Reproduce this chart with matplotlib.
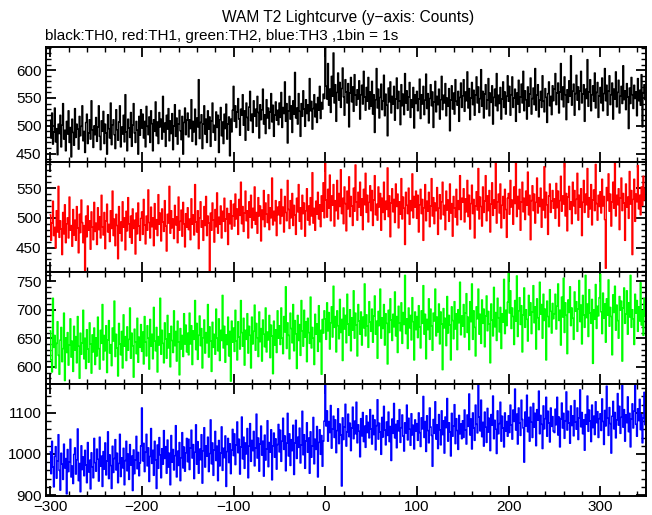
import numpy as np
import matplotlib
matplotlib.use("Agg")
import matplotlib.pyplot as plt
from matplotlib.ticker import MultipleLocator

plt.rcParams['font.family'] = ['Liberation Sans', 'DejaVu Sans']

# WAM T2 lightcurve, 1 bin = 1 s, first bin at t = -300 s
t_start = -300

th0_counts = [
    510, 478, 523, 467, 489, 532, 471, 495, 448, 503, 486, 519, 462, 501, 540, 476, 492, 455, 508, 485, 527, 470, 497, 444, 512,
    488, 465, 531, 479, 503, 494, 458, 517, 482, 499, 536, 473, 490, 452, 506, 521, 468, 487, 511, 476, 545, 493, 461, 500, 484,
    515, 472, 498, 536, 481, 457, 509, 490, 526, 468, 503, 487, 449, 520, 495, 478, 541, 466, 502, 511, 484, 459, 529, 493, 474,
    507, 536, 462, 498, 485, 519, 471, 556, 489, 455, 512, 496, 479, 524, 463, 501, 540, 487, 470, 508, 492, 449, 517, 483, 529,
    496, 521, 478, 508, 462, 535, 499, 484, 516, 470, 527, 504, 455, 511, 490, 543, 482, 507, 468, 524, 498, 512, 476, 553, 489,
    505, 463, 519, 494, 531, 473, 509, 486, 522, 457, 500, 538, 481, 514, 467, 503, 528, 491, 475, 517, 449, 506, 532, 484, 510,
    523, 480, 511, 495, 547, 472, 508, 489, 530, 466, 514, 498, 583, 477, 506, 520, 459, 503, 536, 485, 512, 470, 527, 494, 516,
    463, 509, 541, 488, 501, 474, 525, 497, 519, 452, 511, 533, 482, 507, 468, 521, 495, 539, 476, 503, 516, 446, 512, 489, 528,
    571, 508, 536, 497, 525, 549, 512, 483, 530, 519, 556, 501, 527, 474, 541, 515, 492, 534, 562, 509, 521, 488, 545, 517, 530,
    499, 553, 524, 478, 538, 511, 529, 566, 503, 520, 486, 547, 514, 532, 495, 525, 558, 507, 537, 481, 519, 543, 510, 528, 502,
    541, 515, 560, 497, 533, 522, 579, 508, 540, 469, 527, 553, 512, 536, 488, 545, 521, 596, 514, 532, 503, 558, 526, 481, 540,
    517, 563, 530, 499, 547, 522, 538, 509, 585, 527, 544, 494, 531, 556, 516, 539, 506, 551, 528, 571, 513, 542, 530, 557, 549,
    640, 571, 548, 612, 537, 566, 524, 589, 553, 631, 541, 574, 508, 560, 595, 546, 578, 533, 567, 604, 552, 519, 583, 561, 541,
    576, 498, 559, 587, 543, 570, 526, 592, 555, 537, 565, 548, 581, 512, 556, 573, 539, 598, 552, 528, 569, 544, 587, 530, 561,
    535, 580, 521, 556, 488, 547, 603, 532, 566, 514, 551, 575, 529, 545, 591, 518, 557, 537, 482, 568, 543, 579, 523, 553, 539,
    571, 510, 548, 586, 531, 562, 545, 502, 574, 536, 557, 520, 594, 541, 563, 528, 552, 578, 515, 547, 533, 569, 496, 556, 540,
    562, 527, 548, 584, 513, 556, 539, 571, 520, 546, 593, 531, 558, 505, 549, 574, 536, 561, 497, 543, 580, 525, 553, 538, 566,
    512, 547, 589, 529, 555, 541, 576, 518, 550, 535, 567, 491, 546, 572, 530, 559, 521, 583, 544, 537, 562, 508, 551, 577, 533,
    554, 583, 526, 561, 545, 597, 532, 567, 511, 550, 578, 538, 564, 519, 555, 588, 541, 570, 524, 549, 601, 535, 562, 514, 557,
    574, 530, 546, 585, 518, 559, 542, 572, 503, 551, 566, 536, 594, 527, 555, 540, 569, 512, 548, 579, 533, 561, 521, 553, 590,
    544, 571, 519, 556, 588, 533, 550, 566, 508, 559, 539, 582, 524, 552, 575, 541, 598, 527, 563, 547, 512, 570, 535, 557, 586,
    521, 549, 568, 538, 603, 528, 555, 574, 516, 546, 562, 533, 590, 544, 525, 567, 551, 506, 558, 579, 536, 553, 520, 572, 545,
    566, 594, 538, 559, 577, 523, 561, 612, 547, 570, 534, 588, 556, 511, 565, 542, 581, 553, 626, 537, 562, 575, 519, 558, 591,
    546, 570, 529, 563, 598, 541, 557, 574, 508, 566, 549, 619, 535, 561, 583, 527, 556, 572, 544, 595, 532, 560, 578, 515, 554,
    569, 541, 586, 527, 558, 603, 545, 573, 519, 562, 590, 538, 556, 577, 512, 566, 548, 597, 534, 560, 582, 523, 553, 571, 540,
    608, 547, 563, 529, 576, 552, 495, 568, 540, 587, 556, 531, 573, 549, 561, 518, 585, 545, 564, 537, 592, 498, 559, 574, 547,
]

th1_counts = [
    505, 462, 491, 528, 470, 484, 449, 512, 476, 553, 467, 495, 481, 438, 509, 473, 522, 458, 490, 500, 466, 535, 479, 487, 452,
    514, 471, 496, 462, 519, 483, 441, 506, 475, 530, 492, 458, 487, 411, 503, 468, 520, 479, 495, 447, 510, 484, 463, 526, 477,
    491, 455, 517, 480, 502, 466, 538, 485, 471, 509, 448, 495, 523, 476, 489, 460, 512, 482, 545, 470, 498, 453, 506, 487, 431,
    519, 474, 493, 461, 527, 484, 500, 446, 511, 478, 534, 490, 467, 503, 457, 515, 482, 496, 439, 508, 473, 525, 486, 462, 499,
    510, 472, 531, 488, 456, 503, 479, 547, 492, 466, 518, 485, 500, 453, 524, 481, 497, 470, 539, 489, 508, 461, 515, 493, 477,
    529, 486, 444, 506, 491, 553, 474, 512, 483, 498, 465, 521, 488, 502, 458, 535, 479, 494, 513, 469, 526, 490, 451, 507, 484,
    517, 480, 498, 463, 532, 489, 505, 471, 556, 493, 476, 512, 448, 500, 527, 484, 495, 462, 519, 487, 536, 470, 503, 491, 410,
    508, 479, 525, 496, 459, 514, 485, 542, 474, 501, 489, 520, 466, 511, 494, 533, 477, 498, 516, 455, 507, 490, 529, 481, 503,
    523, 486, 540, 498, 515, 472, 531, 504, 560, 490, 519, 477, 508, 545, 495, 512, 466, 527, 501, 538, 483, 516, 496, 552, 489,
    509, 474, 534, 503, 520, 461, 513, 497, 546, 485, 525, 506, 492, 539, 480, 517, 500, 567, 488, 511, 495, 529, 470, 518, 505,
    527, 490, 548, 503, 518, 476, 536, 509, 495, 563, 514, 482, 529, 500, 541, 487, 521, 505, 472, 533, 510, 556, 494, 517, 481,
    538, 507, 525, 469, 512, 549, 496, 520, 488, 534, 503, 576, 491, 516, 479, 528, 506, 543, 498, 522, 485, 537, 511, 559, 500,
    594, 530, 501, 548, 516, 572, 495, 537, 521, 556, 486, 529, 512, 563, 498, 541, 519, 581, 507, 533, 490, 552, 524, 478, 545,
    515, 569, 502, 536, 520, 487, 550, 511, 589, 527, 496, 543, 518, 560, 504, 532, 480, 548, 522, 575, 509, 538, 493, 526, 554,
    512, 546, 487, 530, 571, 505, 523, 496, 552, 518, 541, 479, 533, 509, 560, 497, 528, 514, 584, 502, 537, 468, 525, 549, 510,
    531, 492, 557, 519, 540, 483, 527, 506, 566, 498, 535, 516, 455, 543, 521, 507, 550, 489, 529, 512, 574, 500, 536, 518, 545,
    499, 538, 476, 522, 548, 507, 531, 462, 517, 556, 495, 528, 511, 543, 485, 520, 566, 503, 534, 490, 525, 512, 551, 472, 516,
    539, 498, 527, 560, 505, 521, 480, 545, 513, 530, 494, 557, 508, 524, 469, 536, 517, 501, 548, 488, 529, 514, 571, 497, 533,
    526, 549, 493, 532, 510, 563, 502, 538, 481, 524, 555, 507, 531, 466, 520, 544, 513, 583, 498, 535, 519, 486, 552, 509, 528,
    571, 495, 537, 512, 546, 476, 523, 559, 504, 530, 516, 594, 491, 527, 540, 508, 557, 483, 521, 536, 499, 548, 514, 467, 533,
    541, 506, 563, 518, 530, 489, 552, 524, 594, 502, 536, 515, 548, 479, 527, 560, 510, 533, 497, 545, 521, 577, 505, 538, 463,
    529, 554, 512, 540, 491, 526, 567, 508, 534, 519, 550, 484, 531, 513, 586, 500, 543, 522, 472, 537, 557, 509, 528, 546, 516,
    532, 499, 558, 517, 545, 486, 529, 570, 511, 537, 523, 594, 503, 541, 478, 535, 553, 514, 527, 490, 560, 520, 546, 507, 531,
    575, 496, 538, 518, 549, 470, 526, 563, 509, 540, 522, 583, 501, 534, 515, 556, 488, 530, 547, 512, 590, 524, 496, 538, 519,
    544, 508, 565, 520, 536, 497, 415, 551, 529, 574, 511, 540, 486, 527, 560, 516, 594, 503, 538, 522, 549, 480, 533, 567, 512,
    541, 525, 462, 557, 518, 535, 499, 578, 523, 546, 438, 531, 565, 494, 540, 527, 588, 515, 538, 505, 552, 521, 570, 530, 548,
]

th2_counts = [
    663, 612, 591, 720, 634, 655, 598, 641, 679, 620, 587, 647, 669, 609, 632, 694, 576, 651, 625, 660, 603, 638, 684, 617, 645,
    592, 671, 629, 653, 607, 688, 636, 580, 659, 622, 642, 699, 614, 650, 597, 665, 631, 608, 677, 640, 589, 656, 626, 668, 604,
    651, 619, 687, 632, 596, 664, 641, 709, 612, 655, 628, 672, 590, 647, 681, 624, 639, 602, 668, 645, 715, 618, 657, 633, 584,
    676, 640, 621, 662, 598, 691, 636, 653, 611, 670, 629, 648, 703, 615, 659, 637, 582, 666, 644, 623, 685, 608, 652, 634, 674,
    627, 661, 605, 688, 643, 619, 672, 650, 596, 683, 636, 657, 614, 704, 645, 628, 669, 591, 653, 638, 720, 622, 664, 641, 607,
    677, 649, 615, 690, 633, 658, 600, 671, 646, 625, 698, 637, 662, 610, 680, 644, 586, 667, 631, 655, 618, 693, 640, 673, 626,
    659, 621, 694, 640, 672, 604, 663, 648, 716, 630, 676, 613, 655, 689, 637, 667, 598, 651, 682, 624, 660, 642, 709, 617, 670,
    645, 592, 678, 634, 657, 622, 701, 650, 628, 684, 611, 664, 646, 725, 633, 671, 608, 656, 639, 687, 619, 662, 575, 680, 643,
    668, 627, 699, 645, 612, 679, 652, 631, 716, 660, 636, 685, 603, 664, 648, 693, 624, 671, 655, 598, 687, 640, 662, 708, 629,
    676, 651, 618, 696, 644, 667, 610, 682, 657, 635, 703, 626, 661, 647, 690, 616, 673, 654, 588, 680, 638, 665, 625, 698, 650,
    672, 639, 703, 650, 623, 688, 661, 740, 632, 677, 655, 614, 694, 667, 642, 709, 628, 681, 658, 597, 690, 646, 674, 620, 716,
    663, 636, 699, 652, 679, 609, 685, 660, 641, 722, 633, 669, 650, 604, 692, 657, 675, 627, 707, 644, 664, 587, 683, 659, 698,
    684, 648, 712, 663, 695, 631, 677, 705, 652, 741, 669, 688, 626, 698, 672, 649, 718, 660, 683, 611, 703, 666, 690, 642, 727,
    675, 655, 700, 628, 686, 664, 733, 650, 694, 673, 619, 709, 680, 657, 696, 638, 687, 668, 745, 654, 691, 671, 634, 714, 678,
    662, 701, 643, 689, 724, 657, 680, 615, 697, 672, 736, 650, 686, 667, 709, 638, 693, 676, 605, 699, 660, 719, 682, 646, 692,
    670, 731, 654, 688, 625, 706, 677, 663, 712, 641, 695, 674, 760, 658, 684, 632, 703, 668, 690, 647, 721, 679, 612, 696, 665,
    688, 651, 707, 670, 633, 698, 676, 742, 657, 692, 614, 683, 665, 719, 648, 701, 672, 629, 694, 680, 736, 654, 687, 661, 710,
    640, 696, 675, 595, 702, 668, 685, 637, 723, 659, 690, 673, 612, 705, 681, 649, 714, 666, 693, 630, 700, 677, 748, 656, 689,
    671, 709, 652, 694, 728, 660, 687, 630, 714, 679, 745, 648, 698, 669, 619, 705, 684, 736, 657, 692, 641, 717, 676, 701, 635,
    689, 724, 663, 697, 675, 607, 710, 682, 654, 739, 670, 695, 646, 720, 686, 661, 704, 632, 693, 678, 753, 658, 699, 672, 713,
    765, 694, 733, 667, 703, 688, 639, 716, 680, 759, 653, 698, 721, 674, 707, 626, 691, 738, 669, 700, 683, 645, 725, 690, 712,
    658, 696, 742, 677, 705, 631, 719, 686, 665, 748, 692, 709, 650, 727, 681, 701, 612, 715, 688, 670, 735, 697, 659, 711, 684,
    693, 727, 666, 706, 745, 681, 699, 638, 722, 687, 755, 660, 712, 690, 623, 717, 695, 740, 672, 703, 685, 648, 731, 697, 714,
    662, 701, 751, 679, 708, 640, 725, 691, 669, 760, 686, 710, 653, 735, 694, 676, 718, 606, 700, 683, 744, 667, 706, 689, 721,
    762, 696, 658, 729, 685, 710, 643, 719, 690, 752, 671, 704, 688, 621, 726, 695, 741, 664, 708, 681, 650, 723, 699, 715, 610,
    703, 738, 676, 692, 733, 657, 712, 687, 760, 669, 700, 684, 639, 727, 694, 716, 662, 705, 680, 747, 673, 698, 655, 720, 689,
]

th3_counts = [
    1005, 952, 1031, 968, 920, 994, 1018, 941, 983, 1047, 960, 912, 1002, 975, 938, 1024, 966, 989, 903, 1011, 957, 980, 1036, 944, 971,
    928, 999, 1015, 951, 986, 1061, 935, 977, 908, 1020, 962, 993, 947, 1009, 973, 930, 1028, 956, 985, 915, 1003, 969, 942, 1038, 979,
    958, 1012, 987, 934, 1041, 970, 995, 921, 1006, 963, 1027, 949, 983, 1054, 940, 998, 972, 916, 1019, 955, 989, 1035, 961, 1002, 930,
    977, 1048, 945, 991, 966, 1014, 925, 984, 1031, 959, 1000, 938, 1023, 973, 995, 911, 1010, 952, 986, 1043, 964, 1004, 947, 978, 1020,
    1112, 983, 1026, 957, 1004, 1048, 971, 1015, 933, 994, 1062, 977, 1009, 948, 1031, 986, 916, 1022, 965, 1040, 998, 942, 1013, 975, 1057,
    989, 1018, 953, 1034, 968, 1002, 925, 1045, 980, 1011, 961, 996, 1069, 944, 1007, 972, 1028, 935, 991, 1052, 966, 1017, 958, 1003, 1038,
    981, 1036, 962, 1015, 1058, 990, 1023, 940, 1004, 1071, 975, 1030, 953, 1012, 986, 1047, 929, 1008, 1064, 968, 1020, 995, 1041, 957, 1001,
    1083, 976, 1027, 948, 1010, 1055, 984, 1019, 935, 1033, 971, 1002, 1066, 960, 1014, 991, 1044, 921, 1006, 1038, 979, 1025, 952, 1009, 1060,
    996, 1049, 974, 1022, 1078, 1003, 1036, 951, 1017, 1090, 988, 1041, 965, 1027, 1000, 1062, 942, 1019, 1074, 982, 1033, 1008, 1055, 971, 1014,
    1097, 990, 1039, 958, 1024, 1068, 997, 1031, 946, 1046, 985, 1012, 1081, 969, 1028, 1004, 1059, 937, 1020, 1051, 992, 1037, 963, 1023, 1072,
    1005, 1058, 982, 1031, 1087, 1011, 1044, 959, 1026, 1099, 995, 1049, 972, 1035, 1008, 1070, 950, 1027, 1082, 989, 1041, 1016, 1063, 978, 1022,
    1104, 998, 1047, 965, 1032, 1076, 1004, 1039, 953, 1054, 992, 1019, 1089, 976, 1036, 1011, 1067, 944, 1028, 1059, 999, 1045, 970, 1031, 1080,
    1170, 1068, 1105, 1031, 1079, 1052, 1118, 1014, 1061, 1092, 1040, 1083, 1003, 1057, 1110, 1025, 1073, 1046, 922, 1088, 1035, 1066, 1121, 1019, 1054,
    1097, 1042, 1075, 1008, 1063, 1114, 1037, 1080, 1049, 1126, 1027, 1071, 1055, 993, 1086, 1044, 1101, 1030, 1068, 1016, 1093, 1052, 1077, 1039, 1108,
    1061, 1024, 1094, 1047, 1083, 1010, 1069, 1132, 1036, 1075, 1053, 999, 1089, 1041, 1116, 1058, 1022, 1078, 1045, 1102, 1030, 1067, 984, 1085, 1050,
    1123, 1039, 1072, 1015, 1081, 1056, 1108, 1028, 1064, 1095, 1043, 1007, 1076, 1051, 1119, 1034, 1087, 1060, 1021, 1098, 1046, 1070, 1012, 1083, 1055,
    1074, 1033, 1100, 1052, 1018, 1088, 1061, 1140, 1040, 1079, 1006, 1093, 1057, 1027, 1112, 1066, 1045, 970, 1084, 1050, 1127, 1036, 1071, 1013, 1096,
    1059, 1022, 1105, 1047, 1081, 1002, 1090, 1064, 1135, 1031, 1076, 1054, 995, 1099, 1043, 1068, 1120, 1025, 1086, 1057, 1011, 1094, 1049, 1073, 1037,
    1081, 1040, 1107, 1058, 1024, 1095, 1067, 1146, 1046, 1085, 1012, 1100, 1063, 1033, 1119, 1072, 1051, 1168, 1090, 1056, 1131, 1042, 1077, 1019, 1102,
    1065, 1028, 1111, 1053, 1087, 1008, 1096, 1070, 1141, 1037, 1082, 1060, 1001, 1105, 1049, 1074, 1126, 1031, 1092, 1063, 1017, 1100, 1055, 1079, 1043,
    1093, 1052, 1119, 1070, 1036, 1107, 1079, 1158, 1058, 1097, 1024, 1112, 1075, 1045, 1131, 1084, 1063, 980, 1102, 1068, 1143, 1054, 1089, 1031, 1114,
    1077, 1040, 1123, 1065, 1099, 1020, 1108, 1082, 1153, 1049, 1094, 1072, 1013, 1117, 1061, 1086, 1138, 1043, 1104, 1075, 1029, 1112, 1067, 1091, 1055,
    1052, 1109, 1071, 1138, 1046, 1090, 1017, 1085, 1124, 1063, 1099, 1038, 1081, 1151, 1058, 1104, 1075, 1026, 1117, 1069, 1093, 1044, 1130, 1078, 1060,
    1112, 1035, 1088, 1156, 1066, 1101, 1049, 1083, 1009, 1096, 1072, 1141, 1055, 1107, 1080, 1030, 1119, 1064, 1092, 1047, 1127, 1076, 1103, 1040, 1086,
    1098, 1057, 1134, 1079, 1023, 1106, 1068, 1165, 1087, 1045, 1113, 1074, 1002, 1092, 1128, 1061, 1101, 1039, 1083, 1147, 1070, 1116, 1050, 1089, 1167,
    1065, 1108, 1031, 1095, 1076, 1139, 1054, 1099, 1017, 1085, 1122, 1063, 1104, 1169, 1072, 1043, 1110, 1081, 1133, 1059, 1096, 1027, 1088, 1150, 1071,
]

series = [th0_counts, th1_counts, th2_counts, th3_counts]
colors = ['black', '#ff0000', '#00ff00', '#0000ff']
ylims = [(435, 641), (409, 594), (570, 766), (898, 1170)]
ymajor = [50, 50, 50, 100]
yminor = [10, 10, 10, 20]

fig = plt.figure(figsize=(6.52, 5.15), dpi=100)
gs = fig.add_gridspec(4, 1, left=0.070, right=0.991, top=0.908, bottom=0.037,
                      hspace=0, height_ratios=[114.7, 110, 112.3, 112])

axes = []
for i, (vals, col) in enumerate(zip(series, colors)):
    ax = fig.add_subplot(gs[i])
    t = t_start + np.arange(len(vals))
    ax.plot(t, vals, color=col, lw=1.0, drawstyle='steps-mid')
    ax.set_xlim(-305, 350)
    ax.set_ylim(*ylims[i])
    ax.xaxis.set_major_locator(MultipleLocator(100))
    ax.xaxis.set_minor_locator(MultipleLocator(20))
    ax.yaxis.set_major_locator(MultipleLocator(ymajor[i]))
    ax.yaxis.set_minor_locator(MultipleLocator(yminor[i]))
    ax.tick_params(which='both', direction='in', top=True, right=True,
                   labelsize=11, colors='black', pad=3)
    ax.tick_params(which='major', length=7, width=1.3)
    ax.tick_params(which='minor', length=3.5, width=1.0)
    for s in ax.spines.values():
        s.set_linewidth(1.4)
    if i < 3:
        ax.tick_params(labelbottom=False)
    axes.append(ax)

fig.text(0.534, 0.966, 'WAM T2 Lightcurve (y\u2212axis: Counts)', ha='center', va='center', fontsize=11.2)
fig.text(0.069, 0.930, 'black:TH0, red:TH1, green:TH2, blue:TH3 ,1bin = 1s', ha='left', va='center', fontsize=11)

fig.savefig('out.png', dpi=100)
